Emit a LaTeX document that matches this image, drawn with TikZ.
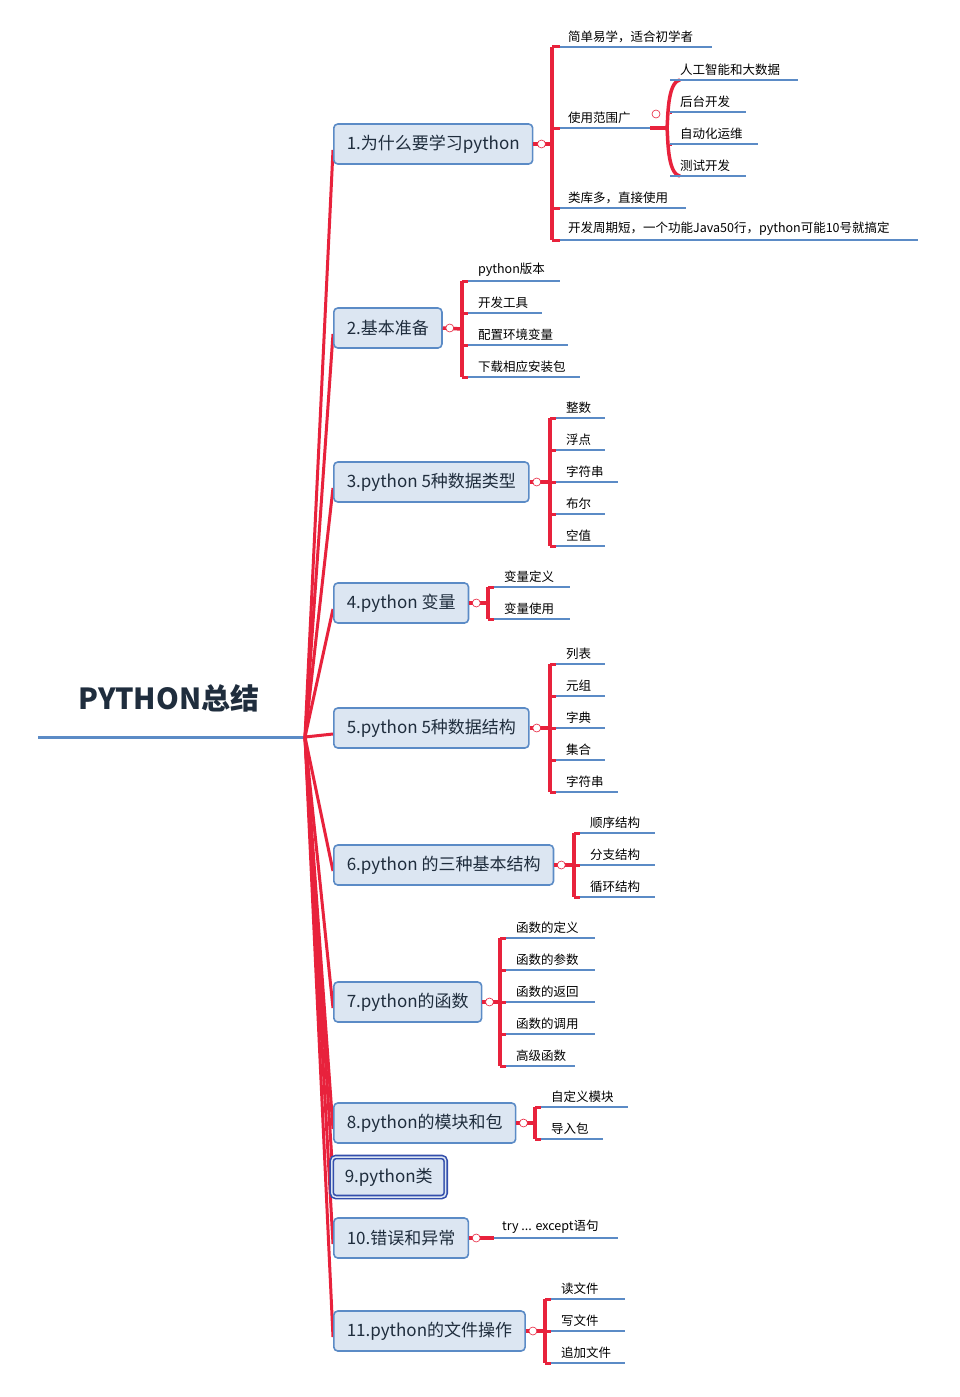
\documentclass[tikz,border=0pt]{standalone}
\usepackage{fontspec}
\setmainfont{Noto Sans CJK SC}
\usetikzlibrary{calc}
\definecolor{rd}{HTML}{E8223C}
\definecolor{bl}{HTML}{5B8BC6}
\definecolor{bx}{HTML}{DCE6F2}
\definecolor{tx}{HTML}{1F2D3D}
\begin{document}
\begin{tikzpicture}[x=1pt,y=-1pt,
 topic/.style={draw=bl,line width=1.6pt,fill=bx,rounded corners=4pt,minimum height=40pt,anchor=west,inner xsep=13pt,font=\fontsize{17}{19}\selectfont,text=tx},
 leaf/.style={anchor=south west,inner sep=2pt,font=\fontsize{12.5}{14}\selectfont,text=black},
 ul/.style={bl,line width=2.5pt},
 br/.style={rd,line width=3.5pt},
 cc/.style={draw=rd,fill=white,circle,inner sep=0pt,minimum size=8pt,line width=0.6pt}]
\useasboundingbox (0,0) rectangle (960,1397);
\fill[white] (0,0) rectangle (960,1397);
% root
\node[font=\fontsize{29}{32}\selectfont\bfseries,text=tx] (root) at (169,698) {PYTHON总结};
\coordinate (rs) at (38,737);
\coordinate (hub) at (305,737);
\draw[bl,line width=3pt] (rs) -- (hub);
% topics
\foreach \n/\y/\t in {1/144/{1.为什么要学习python},2/328/{2.基本准备},3/482/{3.python 5种数据类型},4/603/{4.python 变量},5/728/{5.python 5种数据结构},6/865/{6.python 的三种基本结构},7/1002/{7.python的函数},8/1123/{8.python的模块和包},10/1238/{10.错误和异常},11/1331/{11.python的文件操作}}{
 \coordinate (e\n) at (333,\y+6);
 \draw[rd,line width=3pt] (hub) -- (e\n);
 \node[topic] (t\n) at (333,\y) {\t};
}
\coordinate (e9) at (333,1177);
\draw[rd,line width=3pt] (hub) -- (e9);
\node[topic,draw=bl!70!blue!80!black,double=bx,double distance=1.5pt,line width=1.6pt] (t9) at (331,1177) {9.python类};
% group 1
\draw[br] (552,47) -- (552,240);
\draw[br] (t1.east) -- (552,144);
\node[cc] (c1) at ($(t1.east)+(8,0)$) {};
\foreach \y/\e/\t in {47/712/{简单易学，适合初学者},128/650/{使用范围广},208/686/{类库多，直接使用},240/918/{开发周期短，一个功能Java50行，python可能10号就搞定}}{
 \draw[rd,line width=3pt] (552,\y) -- (560,\y);
 \draw[ul] (560,\y) -- (\e,\y);
 \node[leaf] at (566,\y-2) {\t};}
\draw[br] (650,128) -- (667,128);
\draw[rd,line width=3.5pt] (680,80) .. controls (667,82) and (668,120) .. (667,128) .. controls (668,136) and (667,174) .. (680,176);
\draw[rd,line width=3pt] (670,112) -- (672,112) (670,144) -- (672,144);
\node[cc] (c1b) at (656,114) {};
\foreach \y/\e/\t in {80/798/{人工智能和大数据},112/746/{后台开发},144/758/{自动化运维},176/746/{测试开发}}{
 \draw[ul] (670,\y) -- (\e,\y);
 \node[leaf] at (678,\y-2) {\t};}
% generic groups
\foreach \tn/\bx/\ya/\yb in {2/462/281/377,3/550/418/546,4/488/587/619,5/550/664/792,6/574/833/897,7/500/938/1066,8/535/1107/1139,11/545/1299/1363}{
 \draw[br] (\bx,\ya) -- (\bx,\yb);
 \draw[br] (t\tn.east) -- (\bx,\ya/2+\yb/2);
}
\foreach \tn in {2,3,4,5,6,7,8,11}{\node[cc] at ($(t\tn.east)+(7,0)$) {};}
\newcommand\leaves[2]{\foreach \y/\e/\t in {#2}{
 \draw[rd,line width=3pt] (#1,\y) -- (#1+6,\y);
 \draw[ul] (#1+6,\y) -- (\e,\y);
 \node[leaf] at (#1+14,\y-2) {\t};}}
\leaves{462}{281/560/{python版本},313/542/{开发工具},345/568/{配置环境变量},377/580/{下载相应安装包}}
\leaves{550}{418/605/{整数},450/605/{浮点},482/618/{字符串},514/605/{布尔},546/605/{空值}}
\leaves{488}{587/570/{变量定义},619/570/{变量使用}}
\leaves{550}{664/605/{列表},696/605/{元组},728/605/{字典},760/605/{集合},792/618/{字符串}}
\leaves{574}{833/655/{顺序结构},865/655/{分支结构},897/655/{循环结构}}
\leaves{500}{938/595/{函数的定义},970/595/{函数的参数},1002/595/{函数的返回},1034/595/{函数的调用},1066/575/{高级函数}}
\leaves{535}{1107/628/{自定义模块},1139/603/{导入包}}
\leaves{545}{1299/625/{读文件},1331/625/{写文件},1363/625/{追加文件}}
% group 10
\draw[br] (t10.east) -- (494,1238);
\draw[ul] (494,1238) -- (618,1238);
\node[cc] at ($(t10.east)+(7,0)$) {};
\node[leaf] at (500,1236) {try ... except语句};
\end{tikzpicture}
\end{document}
